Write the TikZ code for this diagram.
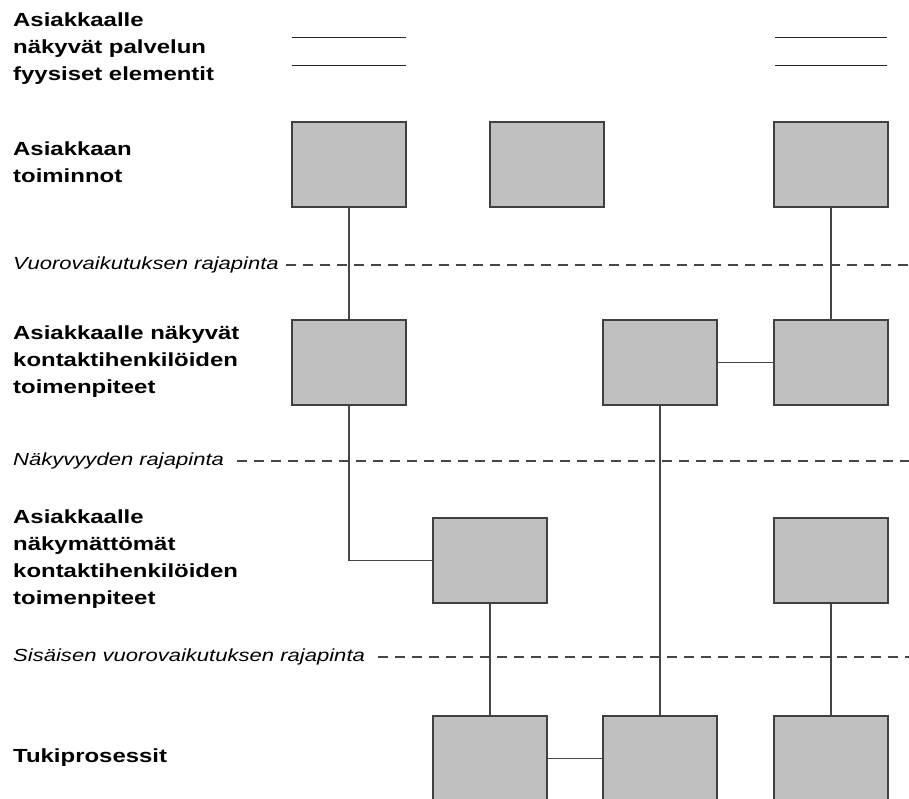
\documentclass[tikz,border=0pt]{standalone}
\usepackage{fontspec}
\setmainfont[FakeStretch=1.26]{Liberation Sans}
\definecolor{BoxFill}{RGB}{192, 192, 192}
\definecolor{BoxEdge}{RGB}{64, 64, 64}
\definecolor{LineGray}{RGB}{70, 70, 70}
\usetikzlibrary{positioning, calc}

\begin{document}
\begin{tikzpicture}[
    x=1pt, y=-1pt,
    every node/.style={align=left, inner sep=0pt},
    level/.style={anchor=west, font=\fontsize{19}{27}\selectfont\bfseries},
    border/.style={anchor=west, font=\fontsize{17.5}{21}\selectfont\itshape},
    act/.style={draw=BoxEdge, fill=BoxFill, line width=1.3pt,
                minimum width=114pt, minimum height=85pt},
    link/.style={draw=LineGray, line width=1.2pt},
    sep/.style={draw=LineGray, line width=1.2pt, dash pattern=on 10pt off 7pt},
    edge/.style={draw=black!85, line width=0.9pt}
]
\useasboundingbox (0,0) rectangle (909,799);
\coordinate (E) at (909,0);

% row labels
\node[level] (lphys) at (13,49) {Asiakkaalle\\näkyvät palvelun\\fyysiset elementit};
\node[level] (lcust) at (13,162) {Asiakkaan\\toiminnot};
\node[level] (lfront) at (13,362) {Asiakkaalle näkyvät\\kontaktihenkilöiden\\toimenpiteet};
\node[level] (lback) at (13,559) {Asiakkaalle\\näkymättömät\\kontaktihenkilöiden\\toimenpiteet};
\node[level] (lsupp) at (13,758) {Tukiprosessit};

% interfaces
\node[border] (binter) at (13,265) {Vuorovaikutuksen rajapinta};
\node[border] (bvis) at (13,461) {Näkyvyyden rajapinta};
\node[border] (binner) at (13,657) {Sisäisen vuorovaikutuksen rajapinta};
\draw[sep] ([xshift=7pt]binter.east) -- (binter.east -| E);
\draw[sep] ([xshift=13pt]bvis.east) -- (bvis.east -| E);
\draw[sep] ([xshift=13pt]binner.east) -- (binner.east -| E);

% physical evidence
\draw[edge] (292,37) -- (406,37);
\draw[edge] (292,65) -- (406,65);
\draw[edge] (775,37) -- (887,37);
\draw[edge] (775,65) -- (887,65);

% activities
\node[act] (c1) at (349,164.5) {};
\node[act] (c2) at (547,164.5) {};
\node[act] (c3) at (831,164.5) {};
\node[act] (f1) at (349,362.5) {};
\node[act] (f2) at (660,362.5) {};
\node[act] (f3) at (831,362.5) {};
\node[act] (k1) at (490,560.5) {};
\node[act] (k2) at (831,560.5) {};
\node[act] (s1) at (490,758.5) {};
\node[act] (s2) at (660,758.5) {};
\node[act] (s3) at (831,758.5) {};

\draw[link] (c1) -- (f1);
\draw[link] (c3) -- (f3);
\draw[link] (f2) -- (f3);
\draw[link] (f1) |- (k1);
\draw[link] (k1) -- (s1);
\draw[link] (f2) -- (s2);
\draw[link] (k2) -- (s3);
\draw[link] (s1) -- (s2);
\end{tikzpicture}
\end{document}
